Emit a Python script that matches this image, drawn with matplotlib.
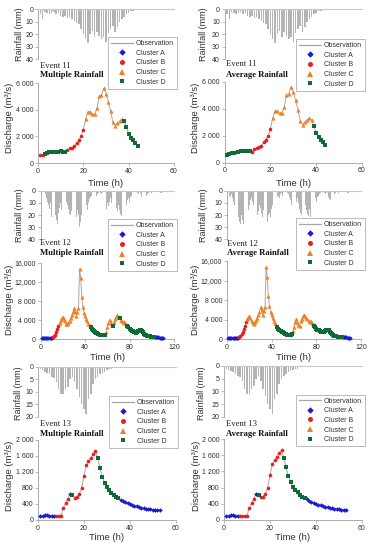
import matplotlib
matplotlib.use('Agg')
import matplotlib.pyplot as plt
from matplotlib.lines import Line2D

# ---------------- data ----------------
# Event 11 (hourly)
q11 = [580, 620, 700, 720, 790, 810, 820, 820, 850, 870, 850, 800,
       1000, 1100, 1150, 1250, 1500, 1700, 2000, 2500,
       3300, 3850, 3850, 3650, 3650, 4100, 5000, 5100, 5600, 5200, 4600, 3900,
       3100, 2800, 3000, 3150, 3300,
       3150, 2700, 2200, 1900, 1700, 1500, 1300]
rain11 = [4, 8, 2, 3, 4, 3, 2, 4, 3, 5, 6, 5, 7, 6, 8, 9, 11, 12, 16, 20, 24, 27,
          20, 17, 22, 18, 21, 24, 22, 26, 19, 16, 13, 18, 14, 10, 8, 6, 4, 3, 1, 1]
clu11_mult = "BBDDDDDDDDDDBBBBBBBBCCCCCCCCCCCCCCCCCDDDDDDD"
clu11_avg = "DDDDBDDDDDDBBBBBBBBBCCCCCCCCCCCCCCCCCCDDDDDD"

# Event 12 (hourly)
q12 = [300, 300, 300, 300, 300, 300, 300, 300, 320, 350,
       450, 700, 1000, 1500, 2100, 2800,
       3500, 4100, 4500, 4700,
       4300, 3800, 3300, 3200, 3500, 3900,
       4400, 5000, 5600, 6500, 5900, 4900, 5700, 6500,
       14700, 12800, 8800, 6800, 5500, 4900, 4300, 3800, 3300, 2900,
       2500, 2200, 1950, 1750, 1550, 1400, 1250, 1100, 1000, 900, 850, 800, 850, 1000,
       1600, 2600, 3500, 4100, 3500, 2900, 2700,
       3700, 4200, 4700, 5000, 4700, 4400, 4100, 3800, 3600, 3700, 3400, 3200,
       2800, 2500, 2200, 2000, 1800, 1650, 1550, 1450, 1400, 1500, 1700, 1900, 2000, 1800, 1500,
       1200, 1000, 850, 750, 650, 600, 550, 500, 470, 450,
       430, 410, 400, 380, 370, 350, 340, 320]
rain12 = [2, 4, 5, 3,
          6, 9, 12, 15, 10,
          22, 26, 27, 20, 24, 27, 18, 14,
          10, 16, 12, 8, 6,
          9, 12, 15, 19, 20, 17, 12,
          14, 18, 22, 16, 20,
          30, 26, 20,
          18, 22, 15, 12, 16, 10, 7,
          5, 4, 6, 3, 2, 4, 3, 2, 1, 2, 3, 5,
          8, 12, 15, 10, 13, 9, 6,
          10, 15, 18, 20, 14, 17, 12,
          16, 19, 21, 15, 22, 18, 12, 8,
          6, 9, 5, 4, 3, 2,
          2, 1, 2, 3, 1, 2,
          5, 7, 8, 6, 4, 3, 2,
          1, 1, 2, 1, 0, 1, 0, 1, 1, 0,
          2, 2, 1, 0, 0]
clu12_mult = ("AAAAAAAAAA" "BBBBBB" "CCCCCCCCCCCCCCCCCCCCCCCCCCCC" "DDDDDDDDDDDDDD"
              "CCCCCC" "D" "CCCCC" "D" "CCCCCC" "DDDDDDDDDDDDDDDDDDDDDDDDD" "AAAAAAAA")
clu12_avg = ("AAAAAAAAAA" "BBBBBBB" "CCCCCCCCCCCCCCCCCCCCCCCCCCC" "DDDDDDDDDDDDDD"
             "CCCCCCCCCCCCCCCCCCC" "DDDDDDDDDDDDDDDDDDDDDDDDDD" "AAAAAAA")

# Event 13 (hourly)
q13 = [100, 110, 120, 115, 110, 105, 100, 100, 100, 110, 300, 420, 520,
       650, 620, 560, 580, 650, 800, 1100, 1380, 1480, 1550, 1650, 1720,
       1540, 1300, 1080, 930, 820, 740, 680, 620, 580, 540,
       510, 480, 450, 420, 400, 380, 360, 340, 320, 310, 295, 285, 275, 265, 260, 255, 250, 245]
rain13 = [1, 1.5, 2, 2.5, 3, 4, 4.5, 6, 9, 11, 11, 9, 8, 5, 4, 6, 9, 12, 15, 17, 19,
          13, 11, 7, 5, 4, 3, 2.5, 2, 1.5, 1, 1, 0.5, 0.5]
clu13_mult = "AAAAAAA" "BBBBBB" "A" "D" "BBBBBBBBBB" "DDDDDDDDDD" "AAAAAAAAAAAAAAAAAA"
clu13_avg = "AAAAAA" "BBBBBBB" "A" "D" "BBBBBBBBBB" "DDDDDDDDDD" "AAAAAAAAAAAAAAAAAA"

ticks11 = [0, 2000, 4000, 6000]
ticklab11 = ['0', '2 000', '4 000', '6 000']
ticks12 = [0, 4000, 8000, 12000, 16000]
ticklab12 = ['0', '4 000', '8 000', '12,000', '16,000']
ticks13 = [0, 400, 800, 1200, 1600, 2000]
ticklab13 = ['0', '400', '800', '1 200', '1 600', '2 000']

cluster_names = ['Cluster A', 'Cluster B', 'Cluster C', 'Cluster D']

# ---------------- style ----------------
SANS = 'Liberation Sans'
SERIF = 'Liberation Serif'
STY = {'A': dict(marker='D', color='#1a1ad0', ms=2.3),
       'B': dict(marker='o', color='#ee1c1c', ms=2.6),
       'C': dict(marker='^', color='#f08020', ms=3.0),
       'D': dict(marker='s', color='#0f6a34', ms=2.4)}
OBS = '#a8a8a8'
SPC = '#a0a0a0'
TXT = '#303030'

W, H = 373, 550
fig = plt.figure(figsize=(W / 100, H / 100), dpi=100)


def add_ax(x0, y0, x1, y1):
    return fig.add_axes([x0 / W, 1 - y1 / H, (x1 - x0) / W, (y1 - y0) / H])


def fx(x):
    return x / W


def fy(y):
    return 1 - y / H


def style_common(ax):
    for s in ax.spines.values():
        s.set_color(SPC)
        s.set_linewidth(0.6)
    ax.tick_params(direction='out', length=2, width=0.5, color=SPC,
                   labelsize=5, labelcolor=TXT, pad=1.5)
    for lab in ax.get_xticklabels() + ax.get_yticklabels():
        lab.set_family(SANS)


panels = [
    dict(q=q11, rain=rain11, clu=clu11_mult, xmax=60, xt=[0, 20, 40, 60], yt=ticks11, yl=ticklab11,
         rmax=40, rt=[0, 10, 20, 30, 40], ev='Event 11', kind='Multiple Rainfall',
         g=(38, 174, 9.3, 59.3, 83, 163), lab=(10, 118, 20, 34, 183), txt=(40, 65.7, 75.3), leg=(108, 37)),
    dict(q=q11, rain=rain11, clu=clu11_avg, xmax=60, xt=[0, 20, 40, 60], yt=ticks11, yl=ticklab11,
         rmax=40, rt=[0, 10, 20, 30, 40], ev='Event 11', kind='Average Rainfall',
         g=(224.7, 362, 9.3, 59.3, 81.5, 162.5), lab=(196, 118, 204, 34, 183), txt=(226.5, 64.5, 75), leg=(296, 39)),
    dict(q=q12, rain=rain12, clu=clu12_mult, xmax=120, xt=[0, 40, 80, 120], yt=ticks12, yl=ticklab12,
         rmax=40, rt=[0, 10, 20, 30, 40], ev='Event 12', kind='Multiple Rainfall',
         g=(40.7, 174, 190.7, 239.3, 262.7, 339.3), lab=(10, 300, 20, 215, 358), txt=(40.5, 243.3, 252.7), leg=(108, 219)),
    dict(q=q12, rain=rain12, clu=clu12_avg, xmax=120, xt=[0, 40, 80, 120], yt=ticks12, yl=ticklab12,
         rmax=40, rt=[0, 10, 20, 30, 40], ev='Event 12', kind='Average Rainfall',
         g=(227, 361, 190.7, 239.3, 261, 339.3), lab=(196, 300, 204, 215, 358), txt=(227, 244, 253.3), leg=(296, 218)),
    dict(q=q13, rain=rain13, clu=clu13_mult, xmax=60, xt=[0, 20, 40, 60], yt=ticks13, yl=ticklab13,
         rmax=20, rt=[0, 5, 10, 15, 20], ev='Event 13', kind='Multiple Rainfall',
         g=(38, 175.7, 366.7, 416.7, 440, 520), lab=(10, 476, 18.5, 393, 538), txt=(40, 424.3, 434), leg=(109, 396)),
    dict(q=q13, rain=rain13, clu=clu13_avg, xmax=60, xt=[0, 20, 40, 60], yt=ticks13, yl=ticklab13,
         rmax=20, rt=[0, 5, 10, 15, 20], ev='Event 13', kind='Average Rainfall',
         g=(224, 362, 366, 416.7, 439, 520), lab=(196.5, 476, 201.5, 393, 538), txt=(226, 424, 434), leg=(296, 394.5)),
]

for p in panels:
    x0, x1, ry0, ry1, dy0, dy1 = p['g']
    # rainfall axes (inverted)
    ra = add_ax(x0, ry0, x1, ry1)
    t_r = list(range(1, len(p['rain']) + 1))
    ra.bar(t_r, p['rain'], width=0.65, color='#b4b4b4', linewidth=0)
    ra.set_xlim(0, p['xmax'])
    ra.set_ylim(p['rmax'], 0)
    ra.set_yticks(p['rt'])
    ra.set_xticks([])
    ra.spines['right'].set_visible(False)
    ra.spines['bottom'].set_visible(False)
    ra.patch.set_alpha(0)
    style_common(ra)
    ra.spines['top'].set_color('#c8c8c8')
    ra.spines['top'].set_linewidth(0.8)

    # discharge axes
    da = add_ax(x0, dy0, x1, dy1)
    t = list(range(1, len(p['q']) + 1))
    da.plot(t, p['q'], color=OBS, lw=0.7, zorder=2)
    for key in 'ABCD':
        xs = [ti for ti, c in zip(t, p['clu']) if c == key]
        ys = [qi for qi, c in zip(p['q'], p['clu']) if c == key]
        st = STY[key]
        da.plot(xs, ys, ls='none', marker=st['marker'], color=st['color'],
                ms=st['ms'], mew=0, zorder=3, clip_on=False)
    da.set_xlim(0, p['xmax'])
    da.set_ylim(0, p['yt'][-1])
    da.set_xticks(p['xt'])
    da.set_yticks(p['yt'])
    da.set_yticklabels(p['yl'])
    da.spines['top'].set_visible(False)
    da.spines['right'].set_visible(False)
    da.patch.set_alpha(0)
    style_common(da)

    # labels
    lx, ly, rx, ry, ty = p['lab']
    fig.text(fx(lx), fy(ly), 'Discharge (m³/s)', rotation=90, ha='center', va='center',
             family=SANS, size=6.8, color=TXT)
    fig.text(fx(rx), fy(ry), 'Rainfall (mm)', rotation=90, ha='center', va='center',
             family=SANS, size=6.5, color=TXT)
    fig.text(fx((x0 + x1) / 2), fy(ty), 'Time (h)', ha='center', va='center',
             family=SANS, size=6.8, color=TXT)
    tx, t1y, t2y = p['txt']
    fig.text(fx(tx), fy(t1y), p['ev'], ha='left', va='center', family=SERIF, size=6.2, color='#222222')
    fig.text(fx(tx), fy(t2y), p['kind'], ha='left', va='center', family=SERIF, size=6.2,
             weight='bold', color='#111111')

    # legend
    handles = [Line2D([], [], color=OBS, lw=0.9)]
    for key in 'ABCD':
        st = STY[key]
        handles.append(Line2D([], [], ls='none', marker=st['marker'], color=st['color'],
                              ms=st['ms'] + 1.0, mew=0))
    lgx, lgy = p['leg']
    leg = fig.legend(handles, ['Observation'] + cluster_names, loc='upper left',
                     bbox_to_anchor=(fx(lgx), fy(lgy)), bbox_transform=fig.transFigure,
                     borderaxespad=0, prop={'family': SANS, 'size': 5},
                     handlelength=3.2, handletextpad=0.35, labelspacing=0.38,
                     borderpad=0.45, fancybox=False, framealpha=1, edgecolor='#b0b0b0')
    leg.get_frame().set_linewidth(0.6)
    for txt in leg.get_texts():
        txt.set_color(TXT)

fig.savefig('out.png', dpi=100)
